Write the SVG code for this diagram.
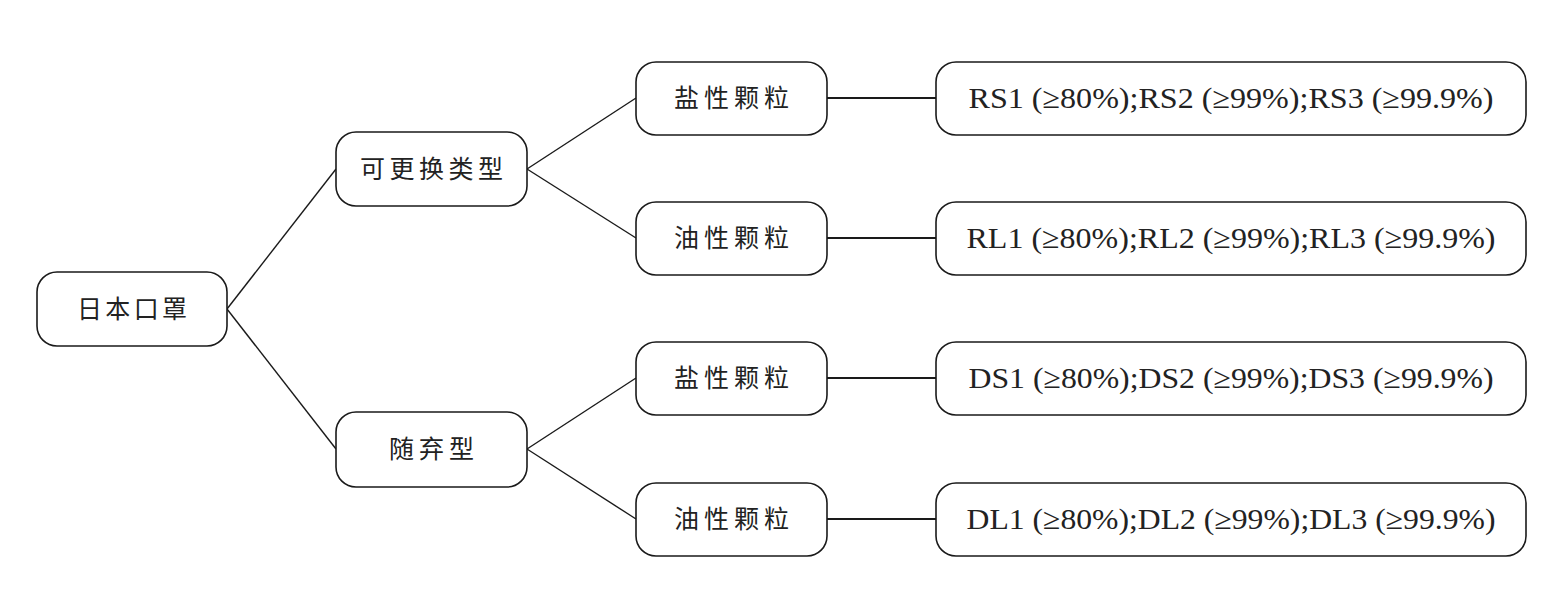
<svg xmlns="http://www.w3.org/2000/svg" width="1558" height="601" viewBox="0 0 1558 601">
<style>
.box{fill:#fff;stroke:#1a1a1a;stroke-width:1.6}
.ln{stroke:#1a1a1a;stroke-width:1.4;fill:none}
.hl{stroke:#1a1a1a;stroke-width:2;fill:none}
.cjk{font-family:"Liberation Serif","Noto Sans CJK SC",serif;font-size:25px;fill:#222;text-anchor:middle}
.lat{font-family:"Liberation Serif","Noto Sans CJK SC",serif;font-size:30px;fill:#222;text-anchor:middle}
</style>
<rect width="1558" height="601" fill="#fff"/>
<g id="connectors">
<line class="ln" x1="227" y1="309" x2="336" y2="169"/>
<line class="ln" x1="227" y1="309" x2="336" y2="449"/>
<line class="ln" x1="527" y1="169" x2="636" y2="98"/>
<line class="ln" x1="527" y1="169" x2="636" y2="238"/>
<line class="ln" x1="527" y1="449" x2="636" y2="378"/>
<line class="ln" x1="527" y1="449" x2="636" y2="519"/>
<line class="hl" x1="827" y1="98" x2="936" y2="98"/>
<line class="hl" x1="827" y1="238" x2="936" y2="238"/>
<line class="hl" x1="827" y1="378" x2="936" y2="378"/>
<line class="hl" x1="827" y1="519" x2="936" y2="519"/>
</g>
<g id="root">
<rect class="box" x="37" y="272" width="190" height="74" rx="20"/>
<text class="cjk" x="132" y="318" textLength="110" lengthAdjust="spacing">日本口罩</text>
</g>
<g id="replaceable">
<rect class="box" x="336" y="132" width="191" height="74" rx="20"/>
<text class="cjk" x="431.5" y="178" textLength="143" lengthAdjust="spacing">可更换类型</text>
</g>
<g id="disposable">
<rect class="box" x="336" y="412" width="191" height="75" rx="20"/>
<text class="cjk" x="431.5" y="458" textLength="85" lengthAdjust="spacing">随弃型</text>
</g>
<g id="r-salt">
<rect class="box" x="636" y="62" width="191" height="73" rx="20"/>
<text class="cjk" x="731.5" y="107" textLength="115" lengthAdjust="spacing">盐性颗粒</text>
</g>
<g id="r-oil">
<rect class="box" x="636" y="202" width="191" height="73" rx="20"/>
<text class="cjk" x="731.5" y="247" textLength="115" lengthAdjust="spacing">油性颗粒</text>
</g>
<g id="d-salt">
<rect class="box" x="636" y="342" width="191" height="73" rx="20"/>
<text class="cjk" x="731.5" y="387" textLength="115" lengthAdjust="spacing">盐性颗粒</text>
</g>
<g id="d-oil">
<rect class="box" x="636" y="483" width="191" height="73" rx="20"/>
<text class="cjk" x="731.5" y="528" textLength="115" lengthAdjust="spacing">油性颗粒</text>
</g>
<g id="rs">
<rect class="box" x="936" y="62" width="590" height="73" rx="20"/>
<text class="lat" x="1231" y="108" textLength="525" lengthAdjust="spacingAndGlyphs">RS1 (≥80%);RS2 (≥99%);RS3 (≥99.9%)</text>
</g>
<g id="rl">
<rect class="box" x="936" y="202" width="590" height="73" rx="20"/>
<text class="lat" x="1231" y="248" textLength="529" lengthAdjust="spacingAndGlyphs">RL1 (≥80%);RL2 (≥99%);RL3 (≥99.9%)</text>
</g>
<g id="ds">
<rect class="box" x="936" y="342" width="590" height="73" rx="20"/>
<text class="lat" x="1231" y="388" textLength="525" lengthAdjust="spacingAndGlyphs">DS1 (≥80%);DS2 (≥99%);DS3 (≥99.9%)</text>
</g>
<g id="dl">
<rect class="box" x="936" y="483" width="590" height="73" rx="20"/>
<text class="lat" x="1231" y="529" textLength="529" lengthAdjust="spacingAndGlyphs">DL1 (≥80%);DL2 (≥99%);DL3 (≥99.9%)</text>
</g>
</svg>
